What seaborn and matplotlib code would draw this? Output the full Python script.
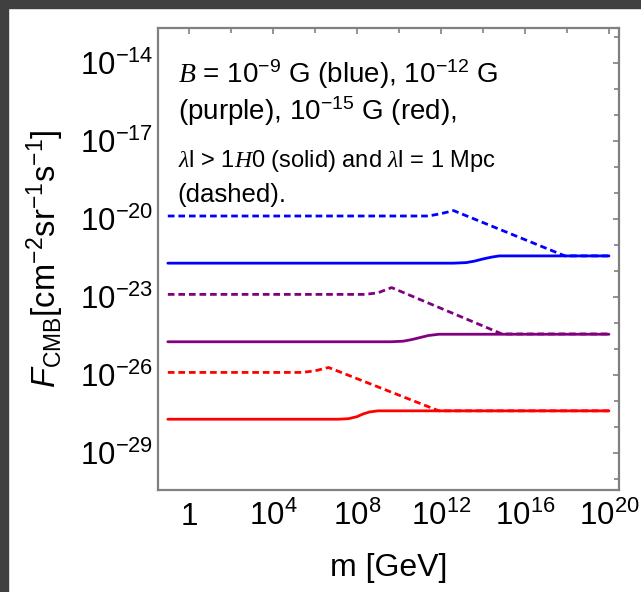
import matplotlib
matplotlib.use("Agg")
import matplotlib.pyplot as plt
import seaborn as sns
import numpy as np
import pandas as pd
from matplotlib.ticker import FixedLocator, FixedFormatter, NullFormatter
from matplotlib.patches import Rectangle

# ---------------- data ----------------
blue_dashed_m = [1e-1, 2.5e11, 1e12, 4e12, 8e17, 1e20]
blue_dashed_F = [1.3e-20, 1.3e-20, 1.6e-20, 2.1e-20, 3.8e-22, 3.8e-22]
blue_solid_m = [1e-1, 4e12, 1.6e13, 4e13, 1e14, 2.5e14, 6e14, 1e20]
blue_solid_F = [2.0e-22, 2.0e-22, 2.1e-22, 2.4e-22, 2.9e-22, 3.4e-22, 3.8e-22, 3.8e-22]

purple_dashed_m = [1e-1, 2.5e8, 1e9, 4.5e9, 8e14, 1e20]
purple_dashed_F = [1.26e-23, 1.26e-23, 1.45e-23, 2.3e-23, 3.8e-25, 3.8e-25]
purple_solid_m = [1e-1, 4e9, 1.6e10, 4e10, 1e11, 2.5e11, 8e11, 1e20]
purple_solid_F = [1.9e-25, 1.9e-25, 2.0e-25, 2.3e-25, 2.75e-25, 3.3e-25, 3.7e-25, 3.7e-25]

red_dashed_m = [1e-1, 2.5e5, 1e6, 4.5e6, 8e11, 1e20]
red_dashed_F = [1.26e-26, 1.26e-26, 1.45e-26, 1.95e-26, 4.2e-28, 4.2e-28]
red_solid_m = [1e-1, 1.3e7, 4e7, 1e8, 2e8, 4e8, 1e9, 1e20]
red_solid_F = [2.0e-28, 2.0e-28, 2.1e-28, 2.5e-28, 3.2e-28, 3.8e-28, 4.2e-28, 4.2e-28]

x_major_ticks = [1e0, 1e4, 1e8, 1e12, 1e16, 1e20]
x_tick_labels = ["1", r"$10^{4}$", r"$10^{8}$", r"$10^{12}$", r"$10^{16}$", r"$10^{20}$"]
x_minor_ticks = [1e2, 1e6, 1e10, 1e14, 1e18]
y_major_ticks = [1e-29, 1e-26, 1e-23, 1e-20, 1e-17, 1e-14]
y_tick_labels = [r"$10^{-29}$", r"$10^{-26}$", r"$10^{-23}$", r"$10^{-20}$", r"$10^{-17}$", r"$10^{-14}$"]
y_minor_ticks = [1e-30, 1e-28, 1e-27, 1e-25, 1e-24, 1e-22, 1e-21, 1e-19, 1e-18, 1e-16, 1e-15, 1e-13]

series = [
    (blue_dashed_m, blue_dashed_F, "#0000ff", "dashed"),
    (blue_solid_m, blue_solid_F, "#0000ff", "solid"),
    (purple_dashed_m, purple_dashed_F, "#800080", "dashed"),
    (purple_solid_m, purple_solid_F, "#800080", "solid"),
    (red_dashed_m, red_dashed_F, "#ff0000", "dashed"),
    (red_solid_m, red_solid_F, "#ff0000", "solid"),
]

# ---------------- style ----------------
sns.set_style("white")
plt.rcParams["font.family"] = ["Liberation Sans", "DejaVu Sans"]
plt.rcParams["mathtext.fontset"] = "custom"
plt.rcParams["mathtext.rm"] = "Liberation Sans"
plt.rcParams["mathtext.it"] = "Liberation Serif:italic"
plt.rcParams["mathtext.sf"] = "Liberation Sans:italic"
plt.rcParams["mathtext.default"] = "rm"
plt.rcParams["text.color"] = "black"
plt.rcParams["axes.labelcolor"] = "black"

fig = plt.figure(figsize=(6.41, 5.92), dpi=100)
ax = fig.add_axes([158 / 641, 1 - 490 / 592, (619 - 158) / 641, (490 - 28) / 592])

for m, F, c, ls in series:
    df = pd.DataFrame({"m": m, "F": F})
    sns.lineplot(data=df, x="m", y="F", ax=ax, color=c, lw=2.0,
                 estimator=None, sort=False,
                 linestyle=(0, (2.4, 1.4)) if ls == "dashed" else "-")

ax.set_xscale("log")
ax.set_yscale("log")
ax.set_xlim(0.034, 3.0e20)
ax.set_ylim(3.8e-31, 2.2e-13)

ax.xaxis.set_major_locator(FixedLocator(x_major_ticks))
ax.xaxis.set_major_formatter(FixedFormatter(x_tick_labels))
ax.xaxis.set_minor_locator(FixedLocator(x_minor_ticks))
ax.xaxis.set_minor_formatter(NullFormatter())
ax.yaxis.set_major_locator(FixedLocator(y_major_ticks))
ax.yaxis.set_major_formatter(FixedFormatter(y_tick_labels))
ax.yaxis.set_minor_locator(FixedLocator(y_minor_ticks))
ax.yaxis.set_minor_formatter(NullFormatter())

frame_c = "#808080"
for s in ax.spines.values():
    s.set_color(frame_c)
    s.set_linewidth(1.6)
ax.tick_params(which="both", direction="in", top=True, right=True,
               color=frame_c, width=1.2, labelsize=22.5, labelcolor="black")
ax.tick_params(which="major", length=4.5)
ax.tick_params(which="minor", length=3.5)
ax.tick_params(axis="y", which="major", pad=3.5)
ax.tick_params(axis="x", which="major", pad=25)

ax.set_xlabel("m [GeV]", fontsize=23, labelpad=15)
ax.set_ylabel(r"$\mathsf{F}_{\mathrm{CMB}}[\mathrm{cm}^{-2}\mathrm{sr}^{-1}\mathrm{s}^{-1}]$", fontsize=23.5)
ax.yaxis.set_label_coords(-0.20, 0.5)

for lab in ax.get_xticklabels():
    lab.set_verticalalignment("baseline")

tx = 0.043
ax.text(tx, 0.881, r"$\mathit{B}$ = 10$^{-9}$ G (blue), 10$^{-12}$ G", transform=ax.transAxes,
        fontsize=20, va="baseline", ha="left")
ax.text(tx, 0.801, r"(purple), 10$^{-15}$ G (red),", transform=ax.transAxes,
        fontsize=20, va="baseline", ha="left")
ax.text(tx, 0.699, r"$\mathit{\lambda}$l > 1$\mathit{H}$0 (solid) and $\mathit{\lambda}$l = 1 Mpc",
        transform=ax.transAxes, fontsize=17, va="baseline", ha="left")
ax.text(tx, 0.623, "(dashed).", transform=ax.transAxes,
        fontsize=18.5, va="baseline", ha="left")

# dark screenshot border (top and left)
fig.patches.append(Rectangle((0, 1 - 8 / 592), 1, 8 / 592, transform=fig.transFigure,
                             color="#404040", zorder=10))
fig.patches.append(Rectangle((0, 0), 8 / 641, 1, transform=fig.transFigure,
                             color="#404040", zorder=10))

fig.savefig("out.png", dpi=100)
